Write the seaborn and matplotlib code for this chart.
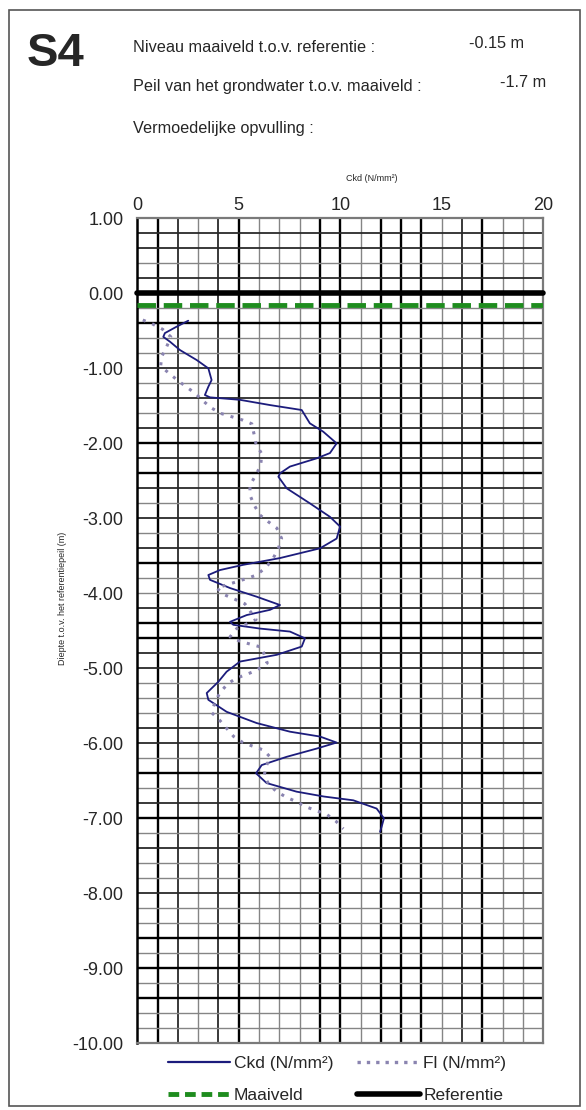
import numpy as np
import seaborn as sns
import matplotlib.pyplot as plt
from matplotlib.lines import Line2D
from matplotlib.patches import Rectangle

# sondering S4
ckd_depth = [-0.365, -0.45, -0.53, -0.58, -0.645, -0.756, -0.89, -1.0, -1.156, -1.245,
             -1.356, -1.387, -1.42, -1.49, -1.556, -1.733, -1.845, -2.0, -2.13, -2.2,
             -2.31, -2.4, -2.445, -2.6, -2.8, -2.98, -3.11, -3.27, -3.4, -3.53,
             -3.62, -3.69, -3.756, -3.82, -3.93, -4.045, -4.156, -4.22, -4.29, -4.38,
             -4.42, -4.47, -4.51, -4.6, -4.71, -4.82, -4.91, -5.045, -5.18, -5.33,
             -5.42, -5.58, -5.73, -5.845, -5.91, -5.99, -6.07, -6.18, -6.29, -6.4,
             -6.53, -6.645, -6.71, -6.76, -6.87, -7.0, -7.11, -7.18]
ckd = [2.51, 1.9, 1.36, 1.28, 1.61, 2.1, 2.93, 3.5, 3.66, 3.5,
       3.33, 3.58, 5.06, 6.54, 8.1, 8.5, 9.16, 9.82, 9.49, 8.84,
       7.52, 7.03, 6.95, 7.36, 8.5, 9.49, 9.99, 9.82, 9.0, 7.03,
       5.22, 4.07, 3.5, 3.58, 4.57, 5.88, 7.03, 6.54, 5.39, 4.57,
       4.73, 6.04, 7.52, 8.26, 8.1, 6.87, 5.06, 4.4, 3.99, 3.42,
       3.5, 4.4, 5.88, 7.52, 9.0, 9.82, 8.84, 7.36, 6.13, 5.85,
       6.37, 7.85, 9.2, 10.64, 11.79, 12.15, 12.04, 11.96]

fl_depth = [-0.356, -0.41, -0.48, -0.58, -0.71, -0.845, -0.97, -1.07, -1.15, -1.245,
            -1.33, -1.43, -1.53, -1.6, -1.645, -1.69, -1.74, -1.876, -2.01, -2.14,
            -2.29, -2.42, -2.556, -2.69, -2.82, -2.956, -3.045, -3.13, -3.27, -3.4,
            -3.53, -3.645, -3.756, -3.8, -3.845, -3.93, -4.02, -4.08, -4.14, -4.35,
            -4.47, -4.58, -4.64, -4.68, -4.72, -4.93, -5.03, -5.08, -5.13, -5.2,
            -5.32, -5.45, -5.59, -5.69, -5.8, -5.91, -5.99, -6.04, -6.09, -6.19,
            -6.3, -6.43, -6.55, -6.645, -6.72, -6.78, -6.85, -6.9, -6.95, -7.04, -7.14]
fl = [0.27, 0.76, 1.25, 1.65, 1.45, 1.2, 1.15, 1.58, 1.94, 2.4,
      2.84, 3.22, 3.66, 4.1, 4.65, 5.19, 5.64, 5.75, 5.85, 6.13,
      6.08, 5.85, 5.55, 5.55, 5.75, 6.04, 6.45, 6.87, 7.11, 6.95,
      6.7, 6.37, 5.88, 5.42, 4.9, 3.91, 4.3, 4.81, 5.3, 5.85,
      4.9, 4.57, 5.06, 5.6, 6.13, 6.4, 5.85, 5.39, 4.9, 4.48,
      4.08, 3.83, 3.66, 4.05, 4.4, 4.75, 5.2, 5.7, 6.22, 6.57,
      6.35, 6.25, 6.48, 6.87, 7.35, 7.85, 8.34, 8.84, 9.34, 9.79, 10.15]

maaiveld = -0.15
referentie = 0.0
grondwater = -1.7

x_ticks = [0, 5, 10, 15, 20]
y_ticks = list(range(-10, 2))

sns.set_style('white')
plt.rcParams['font.family'] = ['Liberation Sans', 'DejaVu Sans']

fig = plt.figure(figsize=(5.86, 11.1), dpi=100)
ax = fig.add_axes([0.2343, 0.0601, 0.6928, 0.7432])

# grid: the scanned chart shows some lines heavier than others
x_dark = [1, 5, 9, 10, 12, 13, 14, 17]
x_mid = [2, 4, 16]
for xv in range(1, 20):
    if xv in x_dark:
        ax.axvline(xv, color='black', lw=1.7, zorder=1)
    elif xv in x_mid:
        ax.axvline(xv, color='#2a2a2a', lw=1.3, zorder=1)
    else:
        ax.axvline(xv, color='#858585', lw=1.0, zorder=1)

y_dark = [-0.4, -2.0, -2.4, -3.6, -4.4, -4.6, -6.4, -7.0, -8.6, -9.0, -9.4]
y_mid = [0.8, 0.6, 0.2, -1.0, -1.4, -1.8, -2.2, -2.6, -3.0, -3.4, -4.2, -4.8,
         -5.0, -5.8, -6.0, -6.8, -7.4, -8.0]
for yv in np.round(np.arange(-9.8, 1.0, 0.2), 1):
    if yv == 0:
        continue
    if yv in y_dark:
        ax.axhline(yv, color='black', lw=1.7, zorder=1)
    elif yv in y_mid:
        ax.axhline(yv, color='#2a2a2a', lw=1.3, zorder=1)
    else:
        ax.axhline(yv, color='#858585', lw=1.0, zorder=1)

ax.axhline(referentie, color='black', lw=4, zorder=3, clip_on=False)
ax.axhline(maaiveld, color='#1e8c1e', lw=3.5, zorder=3,
           linestyle=(0, (3.8, 1.6)))

sns.lineplot(x=ckd, y=ckd_depth, sort=False, estimator=None, ax=ax,
             color='#1c1c7c', lw=1.3, zorder=4)
sns.lineplot(x=fl, y=fl_depth, sort=False, estimator=None, ax=ax,
             color='#8a84b0', lw=2.2, zorder=4, linestyle=(0, (1, 2.3)),
             dash_capstyle='butt')

ax.set_xlim(0, 20)
ax.set_ylim(-10, 1)
ax.xaxis.tick_top()
ax.set_xticks(x_ticks)
ax.set_xticklabels([str(v) for v in x_ticks], fontsize=13)
ax.set_yticks(y_ticks)
ax.set_yticklabels(['%.2f' % v for v in y_ticks], fontsize=13)
ax.tick_params(axis='x', length=0, pad=3)
ax.tick_params(axis='y', length=6, width=1.2, color='black', direction='out', pad=4)
ax.xaxis.set_label_position('top')
ax.set_xlabel('Ckd (N/mm²)', fontsize=6.5, labelpad=12)
ax.xaxis.label.set_x(0.577)
ax.set_ylabel('')

for side in ['top', 'right', 'bottom']:
    ax.spines[side].set_color('#7a7a7a')
    ax.spines[side].set_linewidth(1.6)
ax.spines['left'].set_color('black')
ax.spines['left'].set_linewidth(1.8)

fig.text(0.106, 0.461, 'Diepte t.o.v. het referentiepeil (m)', rotation=90,
         fontsize=6.5, ha='center', va='center')

# header
fig.text(0.045, 0.951, 'S4', fontsize=34, fontweight='bold', ha='left', va='center')
fig.text(0.227, 0.957, 'Niveau maaiveld t.o.v. referentie :', fontsize=11.7, va='center')
fig.text(0.80, 0.961, '%.2f m' % maaiveld, fontsize=11.7, va='center')
fig.text(0.227, 0.922, 'Peil van het grondwater t.o.v. maaiveld :', fontsize=11.7, va='center')
fig.text(0.853, 0.926, '%.1f m' % grondwater, fontsize=11.7, va='center')
fig.text(0.227, 0.884, 'Vermoedelijke opvulling :', fontsize=11.7, va='center')

handles = [
    Line2D([], [], color='#1c1c7c', lw=1.6),
    Line2D([], [], color='#1e8c1e', lw=3.5, linestyle=(0, (2.2, 1.2))),
    Line2D([], [], color='#8a84b0', lw=2.4, linestyle=(0, (1, 1.8)), dash_capstyle='butt'),
    Line2D([], [], color='black', lw=4),
]
labels = ['Ckd (N/mm²)', 'Maaiveld', 'Fl (N/mm²)', 'Referentie']
fig.legend(handles, labels, ncol=2, loc='upper center', bbox_to_anchor=(0.575, 0.063),
           frameon=False, fontsize=12.5, handlelength=3.6, handletextpad=0.2,
           columnspacing=1.4, labelspacing=1.0)

fig.add_artist(Rectangle((0.015, 0.004), 0.975, 0.987, transform=fig.transFigure,
                         fill=False, edgecolor='#555555', lw=1.2))

fig.savefig('out.png', dpi=100)
